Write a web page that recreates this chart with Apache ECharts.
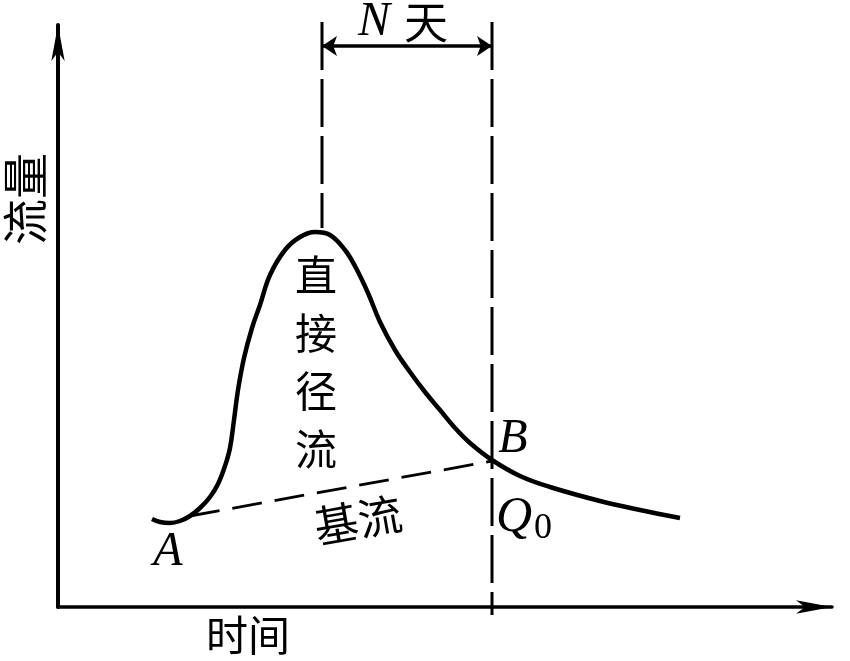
<!DOCTYPE html>
<html><head><meta charset="utf-8">
<script src="https://cdn.jsdelivr.net/npm/echarts@6/dist/echarts.min.js"></script>
<style>html,body{margin:0;padding:0;background:#fff}#c{width:850px;height:661px}</style>
</head><body><div id="c"></div>
<script>
// hydrograph curve (time, flow)
const curveT = [94,102,112,122,132,142,152,160,167,172,176,180,186,194,202,212,227,242,257,272,287,298,310,322,337,352,367,382,397,412,434,462,492,542,582,622];
const curveQ = [88,85,84,86,91,99,110,123,141,159,187,217,249,279,302,332,357,370,375,372,357,339,314,285,257,235,215,197,179,164,147,131,120,106,97,89];
// baseflow separation line A -> B
const baseT = [132,434];
const baseQ = [91,146];
// peak time and end of direct runoff (N days apart)
const peakT = 264, endT = 434;
const guideTopQ = 585, peakQ = 379, bottomQ = -8, dimQ = 561;
const labels = ['直\n接\n径\n流','基流','N天','A','B','Q0','时间','流量'];

const serif = '"Liberation Serif","DejaVu Serif",serif';
const cjk = '"Noto Sans CJK SC","Noto Sans CJK JP",sans-serif';

const chart = echarts.init(document.getElementById('c'), null, {renderer:'canvas'});
const lbl = (t,q,text,extra) => Object.assign({value:[t,q], label:Object.assign({show:true, position:'inside', formatter:text, color:'#000', opacity:1, fontFamily:cjk, fontSize:38}, extra||{})});
chart.setOption({
  animation:false,
  backgroundColor:'#fff',
  grid:{left:58,right:18,top:25,bottom:54},
  xAxis:{type:'value',min:0,max:774,axisLine:{show:true,lineStyle:{color:'#000',width:3.5},symbol:['none','arrow'],symbolSize:[10,36]},axisTick:{show:false},axisLabel:{show:false},splitLine:{show:false}},
  yAxis:{type:'value',min:0,max:582,axisLine:{show:true,lineStyle:{color:'#000',width:4},symbol:['none','arrow'],symbolSize:[10,36]},axisTick:{show:false},axisLabel:{show:false},splitLine:{show:false}},
  series:[
    {type:'line',data:curveT.map((t,i)=>[t,curveQ[i]]),smooth:0.4,showSymbol:false,lineStyle:{color:'#000',width:4.5},clip:false,z:3},
    {type:'line',data:baseT.map((t,i)=>[t,baseQ[i]]),showSymbol:false,lineStyle:{color:'#000',width:2.8,type:[30,13]},clip:false},
    {type:'line',data:[[peakT,guideTopQ],[peakT,peakQ]],showSymbol:false,lineStyle:{color:'#000',width:3,type:[48,9]},clip:false},
    {type:'line',data:[[endT,guideTopQ],[endT,bottomQ]],showSymbol:false,lineStyle:{color:'#000',width:3,type:[48,9]},clip:false},
    {type:'lines',coordinateSystem:'cartesian2d',clip:false,symbol:['arrow','arrow'],symbolSize:[15,15],
     lineStyle:{color:'#000',width:3.5,opacity:1},data:[{coords:[[peakT,dimQ],[endT,dimQ]]}]},
    {type:'scatter',symbolSize:0,clip:false,silent:true,z:5,itemStyle:{opacity:1},data:[
      lbl(258,245,labels[0],{fontSize:42,lineHeight:58}),
      lbl(300,87,labels[1],{fontSize:44,rotate:10}),
      lbl(345,585,'{n|N}{c|天}',{rich:{n:{fontFamily:serif,fontStyle:'italic',fontSize:48,color:'#000',padding:[0,14,0,0]},c:{fontFamily:cjk,fontSize:44,color:'#000'}}}),
      lbl(110,55,labels[3],{fontFamily:serif,fontStyle:'italic',fontSize:48}),
      lbl(455,168,labels[4],{fontFamily:serif,fontStyle:'italic',fontSize:48}),
      lbl(466,89,'{q|Q}{s|0}',{rich:{q:{fontFamily:serif,fontStyle:'italic',fontSize:50,color:'#000'},s:{fontFamily:serif,fontSize:36,color:'#000',padding:[22,0,0,2]}}}),
      lbl(190,-28,labels[6],{fontSize:42}),
      lbl(-33,408,labels[7],{fontSize:46,rotate:90})
    ]}
  ]
});
</script></body></html>
